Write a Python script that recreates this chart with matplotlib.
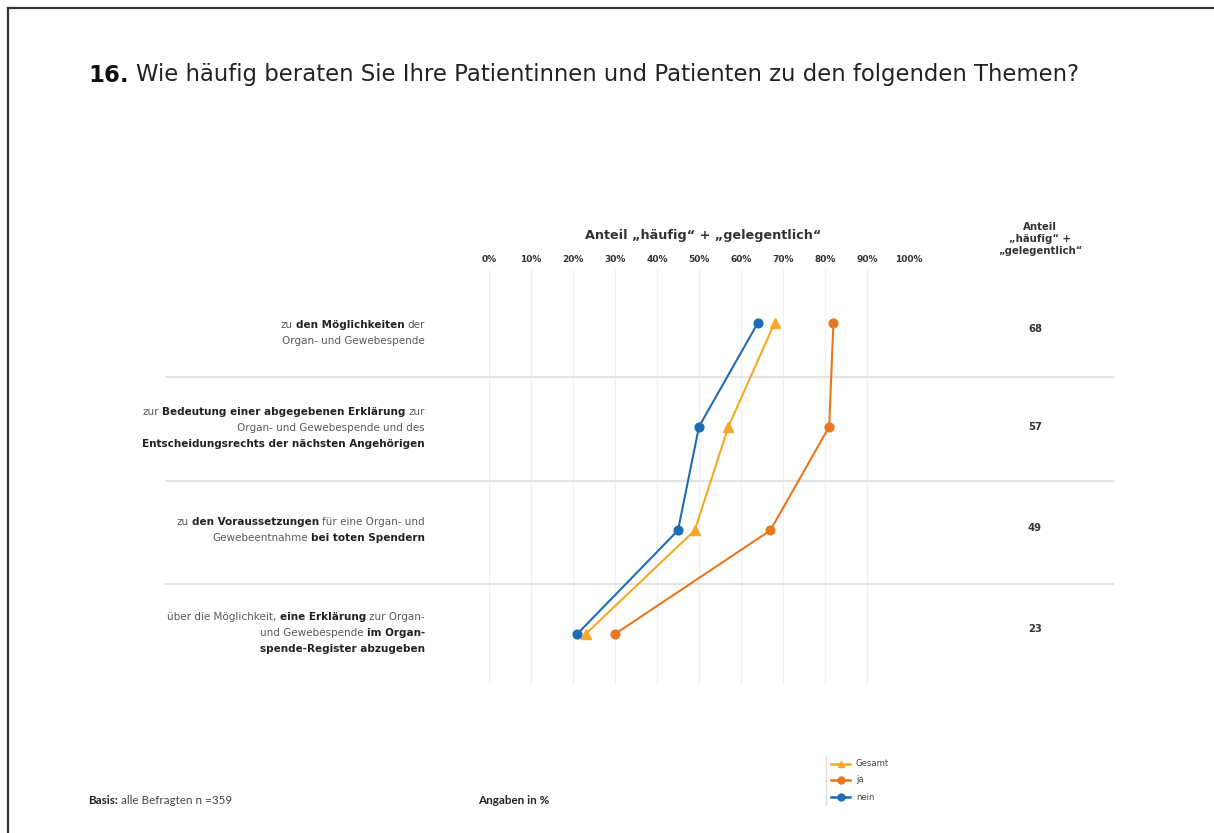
import matplotlib
matplotlib.use("Agg")
import matplotlib.pyplot as plt
from matplotlib.lines import Line2D
import matplotlib.transforms as mtransforms

# ---------------- data ----------------
ticks = [0, 10, 20, 30, 40, 50, 60, 70, 80, 90, 100]
tick_labels = ["0%", "10%", "20%", "30%", "40%", "50%", "60%", "70%", "80%", "90%", "100%"]
series_names = ["Gesamt", "ja", "nein"]
gesamt = [68, 57, 49, 23]
ja = [82, 81, 67, 30]
nein = [64, 50, 45, 21]
right_values = ["68", "57", "49", "23"]
# each category: list of lines, each line list of (text, bold)
categories = [
    [[("zu", False), ("den Möglichkeiten", True), ("der", False)],
     [("Organ- und Gewebespende", False)]],
    [[("zur", False), ("Bedeutung einer abgegebenen Erklärung", True), ("zur", False)],
     [("Organ- und Gewebespende und des", False)],
     [("Entscheidungsrechts der nächsten Angehörigen", True)]],
    [[("zu", False), ("den Voraussetzungen", True), ("für eine Organ- und", False)],
     [("Gewebeentnahme", False), ("bei toten Spendern", True)]],
    [[("über die Möglichkeit,", False), ("eine Erklärung", True), ("zur Organ-", False)],
     [("und Gewebespende", False), ("im Organ-", True)],
     [("spende-Register abzugeben", True)]],
]
title_num = "16."
title_text = "Wie häufig beraten Sie Ihre Patientinnen und Patienten zu den folgenden Themen?"
axis_title = "Anteil „häufig“ + „gelegentlich“"
right_header = "Anteil\n„häufig“ +\n„gelegentlich“"
footer_basis = ("Basis:", "alle Befragten n =359")
footer_unit = "Angaben in %"

# ---------------- style ----------------
W, H = 1214, 833
FONT = "DejaVu Sans"
FOOT = "Lato"
TXT = "#333333"
C_GES = "#F4A927"
C_JA = "#E87722"
C_NEIN = "#1F6DB4"
colors = [C_GES, C_JA, C_NEIN]
markers = ["^", "o", "o"]

fig = plt.figure(figsize=(W / 100, H / 100), dpi=100)
fig.patch.set_facecolor("white")

def fx(px):
    return px / W

def fy(py):
    return 1 - py / H

x0, x1 = 489, 909
ytop, ybot = 270, 685
ax = fig.add_axes([fx(x0), fy(ybot), (x1 - x0) / W, (ybot - ytop) / H])
row_gap = 103.67
ax.set_xlim(0, 100)
ax.set_ylim((ybot - 323) / row_gap, (ytop - 323) / row_gap)
ax.axis("off")

for t in ticks:
    ax.axvline(t, color="#F0F0F0", lw=1.0, zorder=0)

trans_sep = mtransforms.blended_transform_factory(fig.transFigure, ax.transData)
for i in range(len(categories) - 1):
    ax.add_line(Line2D([fx(166), fx(1113)], [i + 0.52, i + 0.52], transform=trans_sep,
                       color="#E4E4E4", lw=1.5, clip_on=False, zorder=0))

rows = list(range(len(categories)))
for vals, col, mk, name in zip([gesamt, ja, nein], colors, markers, series_names):
    ax.plot(vals, rows, color=col, lw=1.5, marker=mk, ms=6.3 if mk == "o" else 7,
            mec=col, mfc=col, zorder=3, label=name, clip_on=False)

fig.canvas.draw()
renderer = fig.canvas.get_renderer()

def width_px(s, bold, size, fam=FONT):
    tt = fig.text(0, 0, s, fontsize=size, fontweight="bold" if bold else "normal", family=fam)
    w = tt.get_window_extent(renderer).width
    tt.remove()
    return w

def fit(s, bold, target, fam=FONT):
    return 10 * target / width_px(s, bold, 10, fam)

# tick labels
tsize = fit("100%", True, 28)
for t, lab in zip(ticks, tick_labels):
    fig.text(fx(x0 + (x1 - x0) * t / 100), fy(259), lab, ha="center", va="center",
             fontsize=tsize, fontweight="bold", color=TXT, family=FONT)
fig.text(fx(703), fy(236), axis_title, ha="center", va="center",
         fontsize=fit(axis_title, True, 234), fontweight="bold", color=TXT, family=FONT)

hsize = fit("„gelegentlich“", True, 84)
fig.text(fx(1040), fy(239), right_header, ha="center", va="center", fontsize=hsize,
         fontweight="bold", color=TXT, family=FONT, linespacing=1.25)
val_y = [329, 427, 528, 629]
vsize = fit("68", True, 14)
for v, yy in zip(right_values, val_y):
    fig.text(fx(1035), fy(yy), v, ha="center", va="center", fontsize=vsize,
             fontweight="bold", color=TXT, family=FONT)

# title
TS = fit(title_num + " " + title_text, False, 987)
t1 = fig.text(fx(88), fy(75), title_num, ha="left", va="center", fontsize=TS,
              fontweight="bold", color="#111111", family=FONT)
bb = t1.get_window_extent(renderer)
sp_t = width_px("x x", False, TS) - width_px("xx", False, TS)
fig.text(fx(bb.x1 + sp_t), fy(75), title_text, ha="left", va="center", fontsize=TS,
         color="#222222", family=FONT)

# category labels
LSIZE = fit("Entscheidungsrechts der nächsten Angehörigen", True, 282)
sp = width_px("x x", False, LSIZE) - width_px("xx", False, LSIZE)
label_right = 425
label_centers = [333, 428, 530, 633]
line_h = 16
for cat, cy in zip(categories, label_centers):
    n = len(cat)
    for li, line in enumerate(cat):
        yy = cy + (li - (n - 1) / 2) * line_h
        widths = [width_px(s, b, LSIZE) for s, b in line]
        total = sum(widths) + sp * (len(line) - 1)
        xx = label_right - total
        for (s, b), w in zip(line, widths):
            fig.text(fx(xx), fy(yy), s, ha="left", va="center", fontsize=LSIZE,
                     fontweight="bold" if b else "normal",
                     color="#222222" if b else "#5a5a5a", family=FONT)
            xx += w + sp

# legend
leg_y = [764, 780, 797]
lsz = fit("Gesamt", False, 33)
fig.add_artist(Line2D([fx(826), fx(826)], [fy(757), fy(805)], color="#DDDDDD", lw=1))
for name, col, mk, yy in zip(series_names, colors, markers, leg_y):
    fig.add_artist(Line2D([fx(831), fx(850)], [fy(yy), fy(yy)], color=col, lw=1.8))
    fig.add_artist(Line2D([fx(840.5)], [fy(yy)], color=col, marker=mk, ms=5, mec=col, mfc=col))
    fig.text(fx(856), fy(yy), name, ha="left", va="center", fontsize=lsz,
             color="#444444", family=FONT)

# footer
fsz = 8.4
fb = fig.text(fx(88), fy(801), footer_basis[0], ha="left", va="center", fontsize=fsz,
              fontweight="bold", color="#222222", family=FOOT)
bbf = fb.get_window_extent(renderer)
fig.text(fx(bbf.x1 + 3), fy(801), footer_basis[1], ha="left", va="center", fontsize=fsz,
         color="#444444", family=FOOT)
fig.text(fx(478), fy(801), footer_unit, ha="left", va="center", fontsize=fsz,
         fontweight="bold", color="#222222", family=FOOT)

# page border
fig.add_artist(Line2D([fx(8), 1], [fy(8), fy(8)], color="#333333", lw=1.6))
fig.add_artist(Line2D([fx(8), fx(8)], [fy(8), 0], color="#333333", lw=1.6))

fig.savefig("out.png", dpi=100, facecolor="white")
